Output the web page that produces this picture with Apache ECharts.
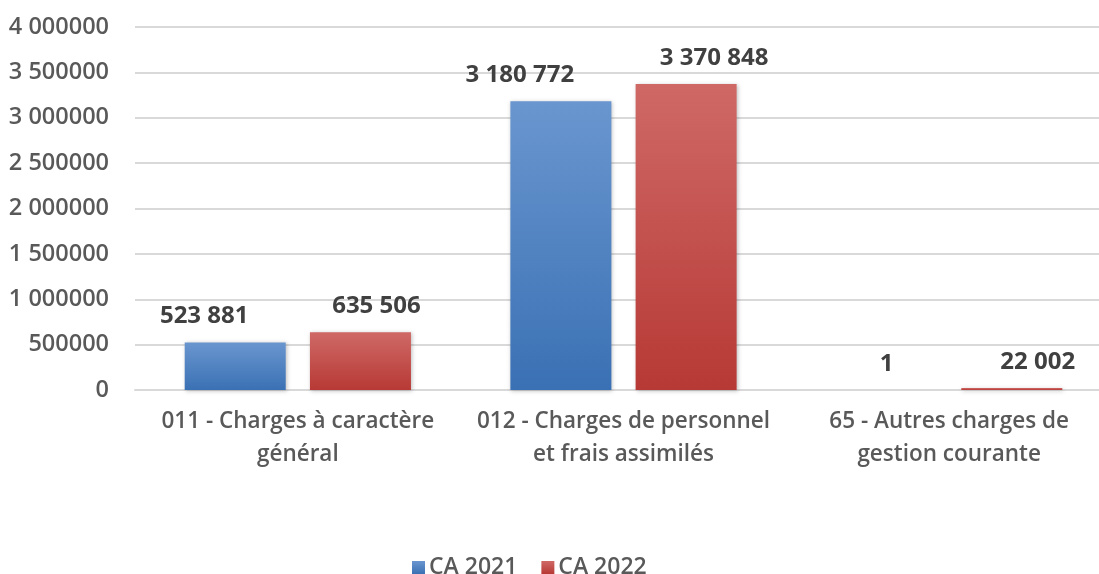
<!DOCTYPE html>
<html>
<head>
<meta charset="utf-8">
<script src="https://cdn.jsdelivr.net/npm/echarts@6/dist/echarts.min.js"></script>
<style>
  html, body { margin: 0; padding: 0; background: #fff; }
  #main { width: 1099px; height: 574px; }
</style>
</head>
<body>
<div id="main"></div>
<script type="text/javascript">
    // données du graphique
    var categories = ['011 - Charges à caractère\ngénéral', '012 - Charges de personnel\net frais assimilés', '65 - Autres charges de\ngestion courante'];
    var ca2021 = [523881, 3180772, 1];
    var ca2022 = [635506, 3370848, 22002];
    var seriesNames = ['CA 2021', 'CA 2022'];
    var yTicks = [0, 500000, 1000000, 1500000, 2000000, 2500000, 3000000, 3500000, 4000000];

    // décalage horizontal des étiquettes (placées à la main dans l'original)
    var shift2021 = [-31, -41, 0];
    var shift2022 = [16, 28, 26];

    function frNumber(v) {
        return String(v).replace(/\B(?=(\d{3})+(?!\d))/g, ' ');
    }
    function axisNumber(v) {
        if (v >= 1000000) {
            var rest = String(v % 1000000);
            while (rest.length < 6) rest = '0' + rest;
            return Math.floor(v / 1000000) + ' ' + rest;
        }
        return String(v);
    }
    function grad(top, bottom) {
        return new echarts.graphic.LinearGradient(0, 0, 0, 1, [
            {offset: 0, color: top},
            {offset: 1, color: bottom}
        ]);
    }
    function items(values, shifts) {
        return values.map(function (v, i) {
            return {value: v, label: {offset: [shifts[i], 0]}};
        });
    }

    var myChart = echarts.init(document.getElementById('main'));

    var labelStyle = {
        show: true,
        position: 'top',
        distance: 14,
        fontFamily: 'Open Sans',
        fontWeight: 700,
        fontSize: 24,
        color: '#404040',
        formatter: function (p) { return frNumber(p.value); }
    };

    var option = {
        animation: false,
        textStyle: {fontFamily: 'Open Sans'},
        grid: {left: 135, width: 977, top: 27, bottom: 184, outerBoundsMode: 'none', containLabel: false},
        legend: {
            data: seriesNames,
            left: 407,
            bottom: -10,
            itemWidth: 13,
            itemHeight: 13,
            itemGap: 24,
            icon: 'rect',
            textStyle: {fontFamily: 'Open Sans', fontWeight: 600, fontSize: 23, color: '#595959', padding: [0, 0, 0, -1]}
        },
        xAxis: {
            type: 'category',
            data: categories,
            axisTick: {show: false},
            axisLine: {lineStyle: {color: '#d9d9d9', width: 2}},
            axisLabel: {
                margin: 15,
                fontFamily: 'Open Sans',
                fontWeight: 600,
                fontSize: 22.5,
                lineHeight: 33,
                color: '#595959',
                interval: 0
            }
        },
        yAxis: {
            type: 'value',
            min: yTicks[0],
            max: yTicks[yTicks.length - 1],
            interval: yTicks[1] - yTicks[0],
            axisLine: {show: false},
            axisTick: {show: false},
            splitLine: {lineStyle: {color: '#d9d9d9', width: 2}},
            axisLabel: {
                margin: 26,
                fontFamily: 'Open Sans',
                fontWeight: 600,
                fontSize: 23.5,
                color: '#595959',
                formatter: axisNumber
            }
        },
        series: [
            {
                name: seriesNames[0],
                type: 'bar',
                barWidth: 101,
                barGap: '24%',
                itemStyle: {
                    color: grad('#6a96cf', '#3a71b4'),
                    shadowColor: 'rgba(0,0,0,0.25)',
                    shadowBlur: 4,
                    shadowOffsetX: 1,
                    shadowOffsetY: 1
                },
                label: labelStyle,
                data: items(ca2021, shift2021)
            },
            {
                name: seriesNames[1],
                type: 'bar',
                barWidth: 101,
                barGap: '24%',
                itemStyle: {
                    color: grad('#cf6966', '#b73935'),
                    shadowColor: 'rgba(0,0,0,0.25)',
                    shadowBlur: 4,
                    shadowOffsetX: 1,
                    shadowOffsetY: 1
                },
                label: labelStyle,
                data: items(ca2022, shift2022)
            }
        ]
    };

    myChart.setOption(option);
</script>
</body>
</html>
